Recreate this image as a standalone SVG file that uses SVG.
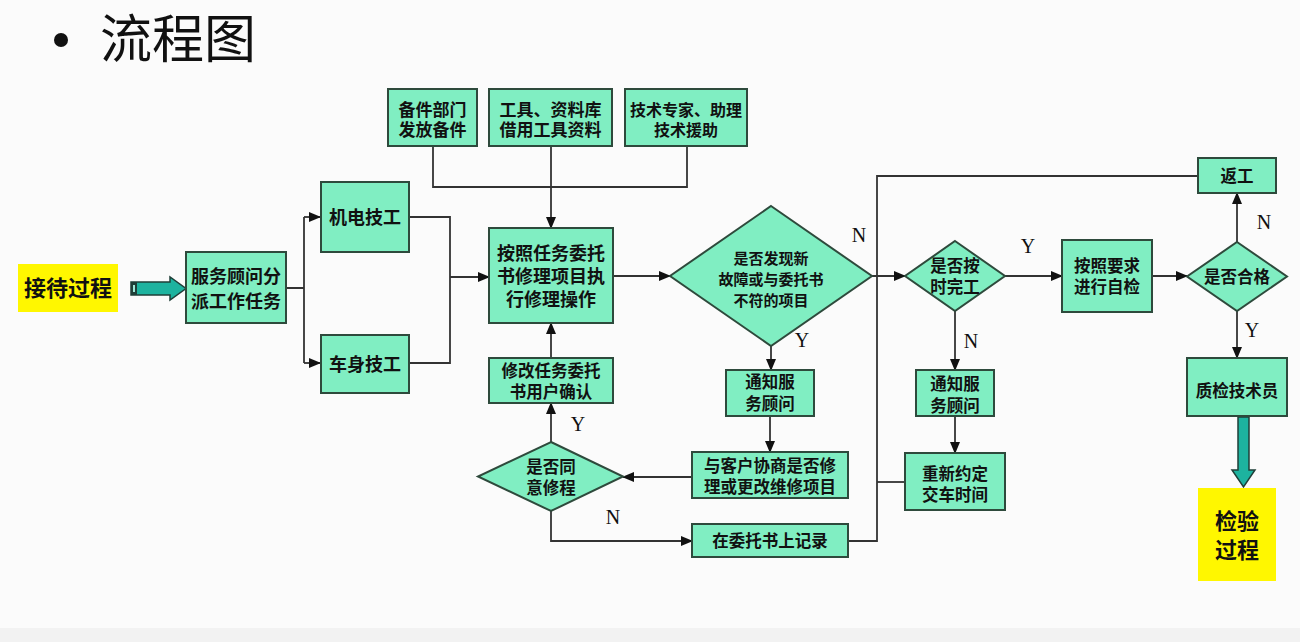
<svg xmlns="http://www.w3.org/2000/svg" width="1300" height="642" viewBox="0 0 1300 642">
<defs>
<marker id="ah" markerUnits="userSpaceOnUse" markerWidth="12" markerHeight="12" viewBox="0 0 12 12" refX="11" refY="6" orient="auto">
<path d="M0,1 L12,6 L0,11 Z" fill="#111"/>
</marker>
<style>
.bx{fill:#80EEC2;stroke:#2E4A3C;stroke-width:2}
.yl{fill:#FFF700;stroke:none}
.t{font-family:"Liberation Sans","Noto Sans CJK SC","Noto Sans CJK TC",sans-serif;font-weight:bold;fill:#111;text-anchor:middle;dominant-baseline:central}
.lb{font-family:"Liberation Serif",serif;font-size:20px;fill:#111;text-anchor:middle;dominant-baseline:central}
.ln{fill:none;stroke:#333;stroke-width:1.8}
.ar{fill:none;stroke:#333;stroke-width:1.8;marker-end:url(#ah)}
.thick{fill:#1DB39F;stroke:#1F3F38;stroke-width:1.5}
</style>
</defs>
<rect x="0" y="0" width="1300" height="642" fill="#FBFBFB"/>
<rect x="0" y="628" width="1300" height="14" fill="#F2F2F2"/>
<g id="title">
<circle cx="61" cy="40" r="7" fill="#111"/>
<text x="100" y="58" font-family="'Liberation Sans','Noto Sans CJK SC',sans-serif" font-size="52" fill="#111">流程图</text>
</g>
<g id="connectors">
<path class="ln" d="M286 288H304 M304 217V363"/>
<path class="ar" d="M304 217H320"/>
<path class="ar" d="M304 363H320"/>
<path class="ln" d="M409 217H450V363H409"/>
<path class="ar" d="M450 277H489"/>
<path class="ln" d="M433 146V187H687V146"/>
<path class="ar" d="M551 146V228"/>
<path class="ar" d="M613 276H670"/>
<path class="ar" d="M771 346V370"/>
<path class="ar" d="M770 416V452"/>
<path class="ar" d="M692 477H623"/>
<path class="ar" d="M551 442V403"/>
<path class="ar" d="M551 358V323"/>
<path class="ar" d="M551 511V541H692"/>
<path class="ln" d="M848 541H877V176H1198"/>
<path class="ln" d="M877 482H905"/>
<path class="ar" d="M872 276H905"/>
<path class="ar" d="M955 311V370"/>
<path class="ar" d="M955 416V453"/>
<path class="ar" d="M1005 276H1062"/>
<path class="ar" d="M1152 276H1187"/>
<path class="ar" d="M1237 242V193"/>
<path class="ar" d="M1237 311V358"/>
<path class="thick" d="M131 282H170V277L186 288.5L170 300V295H131Z"/>
<rect x="131" y="282" width="6" height="13" fill="#1F3F38"/>
<rect x="133" y="285" width="2" height="7" fill="#9FE8D8"/>
<path class="thick" d="M1238 417H1249V470H1255L1243.5 487L1232 470H1238Z"/>
<text class="lb" x="859" y="235">N</text>
<text class="lb" x="802" y="340">Y</text>
<text class="lb" x="578" y="424">Y</text>
<text class="lb" x="613" y="517">N</text>
<text class="lb" x="1028" y="246">Y</text>
<text class="lb" x="971" y="341">N</text>
<text class="lb" x="1264" y="222">N</text>
<text class="lb" x="1252" y="330">Y</text>
</g>
<g id="n_jiedai"><rect class="yl" x="18" y="264" width="100" height="48"/><text class="t" x="68" y="288" font-size="22">接待过程</text></g>
<g id="n_paigong"><rect class="bx" x="186" y="252" width="100" height="71"/><text class="t" font-size="18"><tspan x="236" y="277">服务顾问分</tspan><tspan x="236" y="302">派工作任务</tspan></text></g>
<g id="n_jidian"><rect class="bx" x="321" y="182" width="88" height="70"/><text class="t" x="365" y="218" font-size="18">机电技工</text></g>
<g id="n_cheshen"><rect class="bx" x="321" y="335" width="88" height="58"/><text class="t" x="365" y="365" font-size="18">车身技工</text></g>
<g id="n_beijian"><rect class="bx" x="388" y="89" width="89" height="57"/><text class="t" font-size="17"><tspan x="432.5" y="110">备件部门</tspan><tspan x="432.5" y="130">发放备件</tspan></text></g>
<g id="n_gongju"><rect class="bx" x="489" y="89" width="123" height="57"/><text class="t" font-size="17"><tspan x="550.5" y="110">工具、资料库</tspan><tspan x="550.5" y="130">借用工具资料</tspan></text></g>
<g id="n_zhuanjia"><rect class="bx" x="625" y="89" width="122" height="57"/><text class="t" font-size="16"><tspan x="686" y="110">技术专家、助理</tspan><tspan x="686" y="130">技术援助</tspan></text></g>
<g id="n_xiuli"><rect class="bx" x="489" y="228" width="124" height="95"/><text class="t" font-size="18"><tspan x="551" y="254">按照任务委托</tspan><tspan x="551" y="277">书修理项目执</tspan><tspan x="551" y="300">行修理操作</tspan></text></g>
<g id="n_faxian"><path class="bx" d="M771 206L872 276L771 346L670 276Z"/><text class="t" font-size="15"><tspan x="771" y="258">是否发现新</tspan><tspan x="771" y="279">故障或与委托书</tspan><tspan x="771" y="300">不符的项目</tspan></text></g>
<g id="n_xiugai"><rect class="bx" x="489" y="358" width="124" height="45"/><text class="t" font-size="16.5"><tspan x="551" y="371">修改任务委托</tspan><tspan x="551" y="392">书用户确认</tspan></text></g>
<g id="n_tongzhi1"><rect class="bx" x="726" y="370" width="88" height="46"/><text class="t" font-size="16.5"><tspan x="770" y="382">通知服</tspan><tspan x="770" y="404">务顾问</tspan></text></g>
<g id="n_tongyi"><path class="bx" d="M551 442L623 476.5L551 511L478 476.5Z"/><text class="t" font-size="16.5"><tspan x="551" y="467">是否同</tspan><tspan x="551" y="488">意修程</tspan></text></g>
<g id="n_xieshang"><rect class="bx" x="692" y="452" width="156" height="46"/><text class="t" font-size="16.5"><tspan x="770" y="466">与客户协商是否修</tspan><tspan x="770" y="487">理或更改维修项目</tspan></text></g>
<g id="n_jilu"><rect class="bx" x="692" y="524" width="156" height="33"/><text class="t" x="770" y="541" font-size="16.5">在委托书上记录</text></g>
<g id="n_anshi"><path class="bx" d="M955 241L1005 276L955 311L905 276Z"/><text class="t" font-size="16.5"><tspan x="955" y="266">是否按</tspan><tspan x="955" y="287">时完工</tspan></text></g>
<g id="n_tongzhi2"><rect class="bx" x="916" y="370" width="78" height="46"/><text class="t" font-size="16.5"><tspan x="955" y="384">通知服</tspan><tspan x="955" y="406">务顾问</tspan></text></g>
<g id="n_yueding"><rect class="bx" x="905" y="453" width="100" height="57"/><text class="t" font-size="16.5"><tspan x="955" y="474">重新约定</tspan><tspan x="955" y="495">交车时间</tspan></text></g>
<g id="n_zijian"><rect class="bx" x="1062" y="240" width="90" height="72"/><text class="t" font-size="16.5"><tspan x="1107" y="266">按照要求</tspan><tspan x="1107" y="287">进行自检</tspan></text></g>
<g id="n_hege"><path class="bx" d="M1237 242L1287 276.5L1237 311L1187 276.5Z"/><text class="t" x="1237" y="277" font-size="16.5">是否合格</text></g>
<g id="n_fangong"><rect class="bx" x="1198" y="158" width="78" height="35"/><text class="t" x="1237" y="176" font-size="16.5">返工</text></g>
<g id="n_zhijian"><rect class="bx" x="1187" y="358" width="100" height="58"/><text class="t" x="1237" y="391" font-size="16.5">质检技术员</text></g>
<g id="n_jianyan"><rect class="yl" x="1198" y="488" width="78" height="93"/><text class="t" font-size="22"><tspan x="1237" y="521">检验</tspan><tspan x="1237" y="550">过程</tspan></text></g>
</svg>
